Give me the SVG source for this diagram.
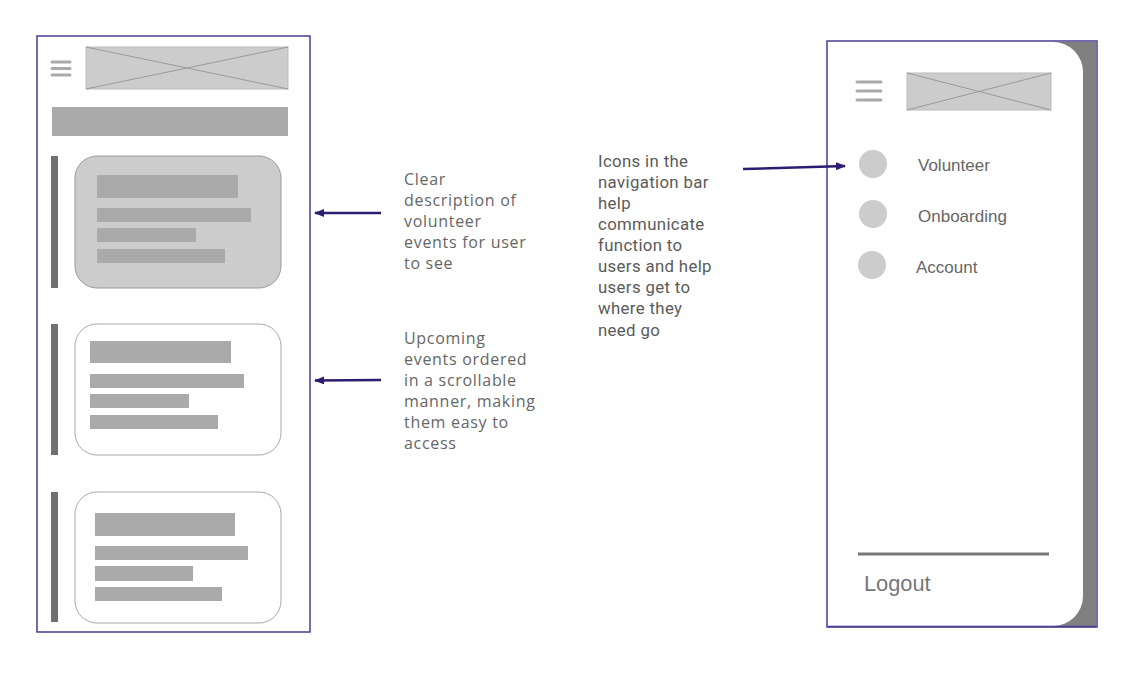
<svg xmlns="http://www.w3.org/2000/svg" width="1140" height="678" viewBox="0 0 1140 678">
<defs>
<marker id="ah" markerWidth="10" markerHeight="8" refX="9" refY="4" orient="auto" markerUnits="userSpaceOnUse" viewBox="0 0 10 8">
<path d="M0,0 L10,4 L0,8 Z" fill="#2e1c72"/>
</marker>
</defs>
<style>
.frame{fill:#fff;stroke:#4a3b94;stroke-width:1.5}
.ph{fill:#cccccc;stroke:#bbb;stroke-width:1}
.phx{stroke:#999;stroke-width:1}
.hb{stroke:#aaaaaa;stroke-width:3;stroke-linecap:round}
.bar{fill:#aaaaaa}
.side{fill:#707070}
.card{fill:#fff;stroke:#a8a8a8;stroke-width:1}
.card1{fill:#cccccc;stroke:#9a9a9a;stroke-width:1}
.note{font-family:"Open Sans","Noto Sans",sans-serif;font-size:16px;letter-spacing:0.7px;fill:#666}
.note2{font-family:Roboto,"Noto Sans",sans-serif;font-size:16.8px;letter-spacing:0.35px;fill:#5a5a5a}
.menu{font-family:"Liberation Sans",Arial,sans-serif;font-size:17px;fill:#666}
.conn{stroke:#2e1c72;stroke-width:2.5;fill:none;marker-end:url(#ah)}
.dot{fill:#cccccc}
</style>
<rect width="1140" height="678" fill="#fff"/>

<g id="left-screen">
<rect class="frame" x="37" y="36" width="273" height="596"/>
<line class="hb" x1="52" y1="62" x2="70" y2="62"/>
<line class="hb" x1="52" y1="68.5" x2="70" y2="68.5"/>
<line class="hb" x1="52" y1="75" x2="70" y2="75"/>
<rect class="ph" x="86" y="47" width="202" height="42"/>
<line class="phx" x1="86" y1="47" x2="288" y2="89"/>
<line class="phx" x1="288" y1="47" x2="86" y2="89"/>
<rect class="bar" x="52" y="107" width="236" height="29"/>
</g>

<g id="card-1">
<rect class="side" x="51" y="156" width="7" height="132"/>
<rect class="card1" x="75" y="156" width="206" height="132" rx="22"/>
<rect class="bar" x="97" y="175" width="141" height="23"/>
<rect class="bar" x="97" y="208" width="154" height="14"/>
<rect class="bar" x="97" y="228" width="99" height="14"/>
<rect class="bar" x="97" y="249" width="128" height="14"/>
</g>

<g id="card-2">
<rect class="side" x="51" y="324" width="7" height="131"/>
<rect class="card" x="75" y="324" width="206" height="131" rx="22"/>
<rect class="bar" x="90" y="341" width="141" height="22"/>
<rect class="bar" x="90" y="374" width="154" height="14"/>
<rect class="bar" x="90" y="394" width="99" height="14"/>
<rect class="bar" x="90" y="415" width="128" height="14"/>
</g>

<g id="card-3">
<rect class="side" x="51" y="492" width="7" height="130"/>
<rect class="card" x="75" y="492" width="206" height="131" rx="22"/>
<rect class="bar" x="95" y="513" width="140" height="23"/>
<rect class="bar" x="95" y="546" width="153" height="14"/>
<rect class="bar" x="95" y="566" width="98" height="15"/>
<rect class="bar" x="95" y="587" width="127" height="14"/>
</g>

<g id="note-1">
<text class="note" x="404" y="185">Clear</text>
<text class="note" x="404" y="206">description of</text>
<text class="note" x="404" y="227">volunteer</text>
<text class="note" x="404" y="248">events for user</text>
<text class="note" x="404" y="269">to see</text>
</g>

<g id="note-2">
<text class="note" x="404" y="344">Upcoming</text>
<text class="note" x="404" y="365">events ordered</text>
<text class="note" x="404" y="386">in a scrollable</text>
<text class="note" x="404" y="407">manner, making</text>
<text class="note" x="404" y="428">them easy to</text>
<text class="note" x="404" y="449">access</text>
</g>

<g id="note-3">
<text class="note2" x="598" y="167">Icons in the</text>
<text class="note2" x="598" y="188">navigation bar</text>
<text class="note2" x="598" y="209">help</text>
<text class="note2" x="598" y="230">communicate</text>
<text class="note2" x="598" y="251">function to</text>
<text class="note2" x="598" y="272">users and help</text>
<text class="note2" x="598" y="293">users get to</text>
<text class="note2" x="598" y="314">where they</text>
<text class="note2" x="598" y="336">need go</text>
</g>

<g id="right-screen">
<rect class="frame" x="827" y="41" width="270" height="586"/>
<rect x="828" y="42" width="268" height="584" fill="#808080"/>
<path d="M828,42 H1053 A30,30 0 0 1 1083,72 V596 A30,30 0 0 1 1053,626 H828 Z" fill="#fff"/>
<line x1="828" y1="626.5" x2="1096" y2="626.5" stroke="#4a3b94" stroke-width="1.5"/>
<line class="hb" x1="857" y1="82" x2="881" y2="82"/>
<line class="hb" x1="857" y1="91" x2="881" y2="91"/>
<line class="hb" x1="857" y1="100" x2="881" y2="100"/>
<rect class="ph" x="907" y="73" width="144" height="37"/>
<line class="phx" x1="907" y1="73" x2="1051" y2="110"/>
<line class="phx" x1="1051" y1="73" x2="907" y2="110"/>
<circle class="dot" cx="873" cy="164" r="14"/>
<text class="menu" x="918" y="171">Volunteer</text>
<circle class="dot" cx="873" cy="214" r="14"/>
<text class="menu" x="918" y="222">Onboarding</text>
<circle class="dot" cx="872" cy="265" r="14"/>
<text class="menu" x="916" y="273">Account</text>
<line x1="858" y1="554" x2="1049" y2="554" stroke="#777" stroke-width="3"/>
<text class="menu" x="864" y="591" style="font-size:21.8px;fill:#777">Logout</text>
</g>

<g id="connectors">
<line class="conn" x1="381" y1="213" x2="315" y2="213"/>
<line class="conn" x1="381" y1="380" x2="315" y2="380.5"/>
<line class="conn" x1="743" y1="169" x2="845" y2="166"/>
</g>
</svg>
